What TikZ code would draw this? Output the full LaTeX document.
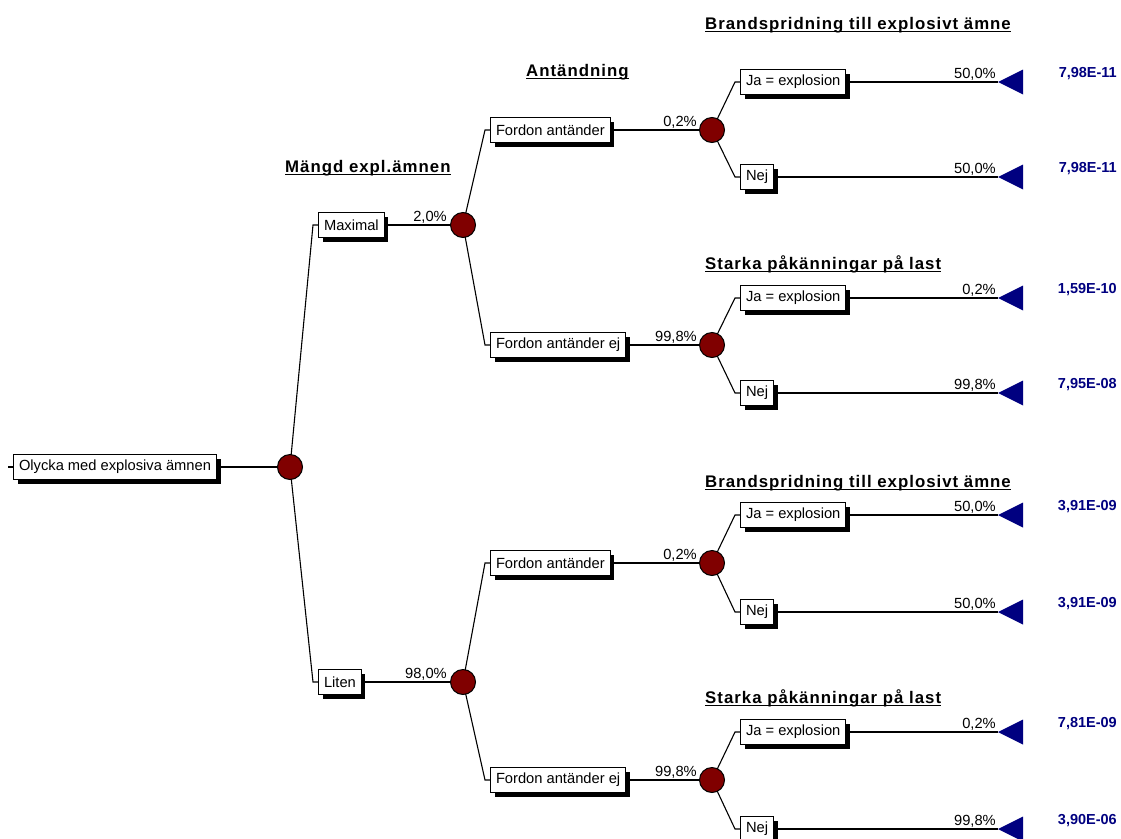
\documentclass[tikz,border=0pt]{standalone}
\usepackage{fontspec}
\setmainfont{Liberation Sans}
\newfontfamily\hdrfont[LetterSpace=6]{Liberation Sans}
\usetikzlibrary{shadows,backgrounds,calc}
\definecolor{maroonc}{HTML}{800000}
\definecolor{navyc}{HTML}{000080}
\tikzset{
  lbl/.style={draw=black, line width=1pt, fill=white, font=\fontsize{14.7}{16}\selectfont,
    inner xsep=5.5pt, inner ysep=0pt, minimum height=25pt, anchor=west,
    drop shadow={shadow xshift=4pt, shadow yshift=-4pt, opacity=1, fill=black}},
  chance/.style={circle, draw=black, line width=1pt, fill=maroonc, minimum size=25pt, inner sep=0pt},
  pct/.style={font=\fontsize{14.7}{16}\selectfont, anchor=base east, inner sep=0pt},
  val/.style={font=\bfseries\fontsize{14.5}{16}\selectfont, text=navyc, anchor=base east, inner sep=0pt},
  hdr/.style={font={\hdrfont\bfseries\fontsize{16.8}{18}\selectfont}, anchor=base west, inner sep=0pt},
  conn/.style={line width=1.1pt},
  uline/.style={line width=1.8pt},
}
\newcommand\leafrow[6]{%
  \node[lbl] (#1) at (740,#2) {#3};
  \coordinate (#1t) at (998,#2);
  \node[pct] (#1p) at (996,#2-4) {#4};
  \node[val] (#1v) at (1117,#2-5) {#5};
  \fill[navyc] (#1t) -- ++(25,-12.5) -- ++(0,25) -- cycle;
  \begin{scope}[on background layer]
    \draw[conn] (#6.center) -- ($(#1.west)+(-5,0)$) -- (#1.west);
    \draw[conn] (#1.east) -- (#1t);
  \end{scope}
}
\newcommand\midrow[5]{% name, y, text, pct, parent
  \node[lbl] (#1) at (490,#2) {#3};
  \node[chance] (#1c) at (712,#2) {};
  \node[pct] (#1p) at (697,#2-4) {#4};
  \begin{scope}[on background layer]
    \draw[conn] (#5.center) -- ($(#1.west)+(-5,0)$) -- (#1.west);
    \draw[conn] (#1.east) -- (#1c);
  \end{scope}
}
\newcommand\hdr[3]{%
  \node[hdr] (#1) at #2 {#3};
  \draw[uline] ([yshift=-2.5pt]#1.base west) -- ([yshift=-2.5pt]#1.base east);
}
\begin{document}
\begin{tikzpicture}[x=1pt,y=-1pt]
\useasboundingbox (0,0) rectangle (1121,838);

% headers
\hdr{h1}{(285,172)}{Mängd expl.ämnen}
\hdr{h2}{(526,76)}{Antändning}
\hdr{h3}{(705,29)}{Brandspridning till explosivt ämne}
\hdr{h4}{(705,269)}{Starka påkänningar på last}
\hdr{h5}{(705,487)}{Brandspridning till explosivt ämne}
\hdr{h6}{(705,703)}{Starka påkänningar på last}

% root
\node[lbl] (r) at (13,467) {Olycka med explosiva ämnen};
\node[chance] (c0) at (290,467) {};
\begin{scope}[on background layer]
  \draw[conn] (r.west) -- ++(-5,0);
  \draw[conn] (r.east) -- (c0);
\end{scope}

% level 1
\node[lbl] (m) at (318,225) {Maximal};
\node[chance] (mc) at (463,225) {};
\node[pct] (mp) at (447,221) {2,0\%};
\node[lbl] (l) at (318,682) {Liten};
\node[chance] (lc) at (463,682) {};
\node[pct] (lp) at (447,678) {98,0\%};
\begin{scope}[on background layer]
  \draw[conn] (c0.center) -- ($(m.west)+(-5,0)$) -- (m.west);
  \draw[conn] (m.east) -- (mc);
  \draw[conn] (c0.center) -- ($(l.west)+(-5,0)$) -- (l.west);
  \draw[conn] (l.east) -- (lc);
\end{scope}

% level 2
\midrow{a1}{130}{Fordon antänder}{0,2\%}{mc}
\midrow{a2}{345}{Fordon antänder ej}{99,8\%}{mc}
\midrow{a3}{563}{Fordon antänder}{0,2\%}{lc}
\midrow{a4}{780}{Fordon antänder ej}{99,8\%}{lc}

% level 3
\leafrow{b1}{82}{Ja = explosion}{50,0\%}{7,98E-11}{a1c}
\leafrow{b2}{177}{Nej}{50,0\%}{7,98E-11}{a1c}
\leafrow{b3}{298}{Ja = explosion}{0,2\%}{1,59E-10}{a2c}
\leafrow{b4}{393}{Nej}{99,8\%}{7,95E-08}{a2c}
\leafrow{b5}{515}{Ja = explosion}{50,0\%}{3,91E-09}{a3c}
\leafrow{b6}{612}{Nej}{50,0\%}{3,91E-09}{a3c}
\leafrow{b7}{732}{Ja = explosion}{0,2\%}{7,81E-09}{a4c}
\leafrow{b8}{829}{Nej}{99,8\%}{3,90E-06}{a4c}
\end{tikzpicture}
\end{document}
